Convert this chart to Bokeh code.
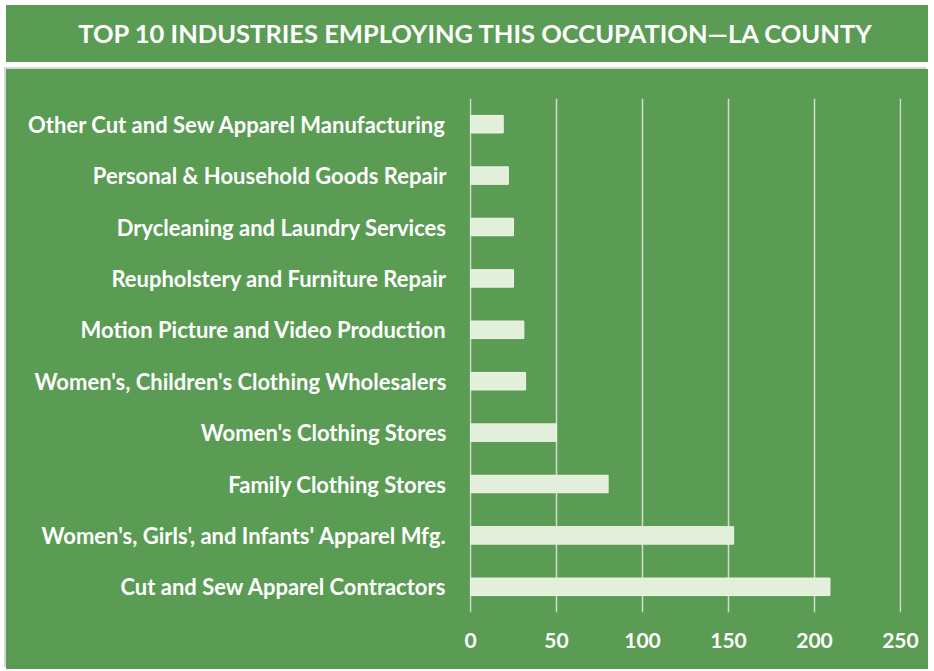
from bokeh.plotting import figure
from bokeh.models import FactorRange, Range1d, FixedTicker, ColumnDataSource, Div
from bokeh.layouts import column
from bokeh.embed import file_html
from bokeh.resources import INLINE

title_text = "TOP 10 INDUSTRIES EMPLOYING THIS OCCUPATION\u2014LA COUNTY"
industries = [
    "Cut and Sew Apparel Contractors",
    "Women's, Girls', and Infants' Apparel Mfg.",
    "Family Clothing Stores",
    "Women's Clothing Stores",
    "Women's, Children's Clothing Wholesalers",
    "Motion Picture and Video Production",
    "Reupholstery and Furniture Repair",
    "Drycleaning and Laundry Services",
    "Personal & Household Goods Repair",
    "Other Cut and Sew Apparel Manufacturing",
]
employment = [209, 153, 80, 50, 32, 31, 25, 25, 22, 19]
x_ticks = [0, 50, 100, 150, 200, 250]

GREEN = "#5b9c54"
BAR = "#e2efda"
GRID = "#d4d9d2"
FONT = "Lato"
W = 922

title = Div(
    text=f'<div style="width:{W}px;height:57px;display:flex;align-items:center;'
         f'justify-content:center;background:{GREEN};color:white;font-family:Lato;'
         f'font-weight:bold;font-size:25.5px;white-space:nowrap;padding-left:16px;'
         f'box-sizing:border-box;">{title_text}</div>',
    width=W, height=57, margin=0)

src = ColumnDataSource(dict(industry=industries, value=employment))
p = figure(width=W, height=600, y_range=FactorRange(factors=industries),
           x_range=Range1d(-0.6, 250.6), output_backend="svg", toolbar_location=None,
           min_border_left=463, min_border_right=27, min_border_top=29,
           min_border_bottom=57, margin=0,
           styles={"background-color": GREEN,
                   "box-shadow": "-2px -2px 0 0 #d6d6d6"})
p.background_fill_color = GREEN
p.border_fill_color = GREEN
p.outline_line_color = None
p.outline_line_alpha = 0
p.hbar(y="industry", right="value", left=0, height=0.34, source=src,
       fill_color=BAR, line_color="#eef5ea", line_width=1)

p.xaxis.ticker = FixedTicker(ticks=x_ticks)
p.xgrid.ticker = FixedTicker(ticks=x_ticks)
p.xgrid.grid_line_color = GRID
p.xgrid.grid_line_width = 1.5
p.ygrid.grid_line_color = None
for ax in (p.xaxis, p.yaxis):
    ax.axis_line_color = None
    ax.major_tick_line_color = None
    ax.minor_tick_line_color = None
    ax.major_label_text_color = "white"
    ax.major_label_text_font = FONT
    ax.major_label_text_font_style = "bold"
    ax.major_label_text_font_size = "21px"
p.yaxis.major_label_text_font_size = "22px"
p.xaxis.major_label_standoff = 14
p.yaxis.major_label_standoff = 17

layout = column(title, p, spacing=7,
                styles={"background-color": "white", "margin-left": "6px",
                        "margin-top": "5px"})
open("out.html", "w").write(file_html(layout, INLINE))
